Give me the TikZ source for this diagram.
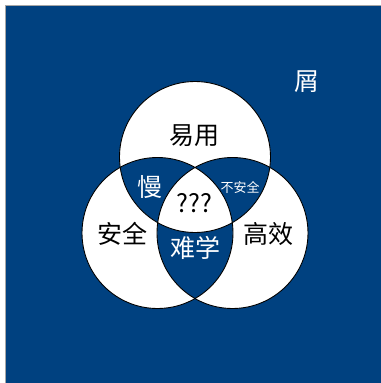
\documentclass[tikz,border=0pt]{standalone}
\usepackage{fontspec}
\newfontfamily\cjk{Noto Sans CJK SC}
\definecolor{bgblue}{RGB}{0,65,128}
\begin{document}
\begin{tikzpicture}[x=1bp,y=-1bp,
  big/.style={font=\cjk\fontsize{25bp}{25bp}\selectfont, inner sep=0pt},
  small/.style={font=\cjk\fontsize{13bp}{13bp}\selectfont, inner sep=0pt},
  dark/.style={text=black},
  light/.style={text=white}]
\useasboundingbox (0,0) rectangle (381,383);
\begin{scope}
\clip (0,0) rectangle (381,383);
\draw[fill=bgblue, draw=gray!70, line width=1bp] (5.5,5.5) rectangle (390,390);
\end{scope}
% Venn circles with even-odd fill
\fill[white, even odd rule] (195,157) circle (75.5) (157.5,233) circle (75.5) (232.5,233) circle (75.5);
\draw[black, line width=0.9bp] (195,157) circle (75.5);
\draw[black, line width=0.9bp] (157.5,233) circle (75.5);
\draw[black, line width=0.9bp] (232.5,233) circle (75.5);
% labels
\node[big,dark] (easy) at (194,136) {易用};
\node[big,light] (slow) at (149.5,187) {慢};
\node[small,light] (unsafe) at (240,187) {不安全};
\node[big,dark] (qqq) at (194.5,203) {???};
\node[big,dark] (safe) at (122,234) {安全};
\node[big,dark] (eff) at (268,233.5) {高效};
\node[big,light] (hard) at (195,248) {难学};
\node[big,light] (xie) at (307,82) {屑};
\end{tikzpicture}
\end{document}
